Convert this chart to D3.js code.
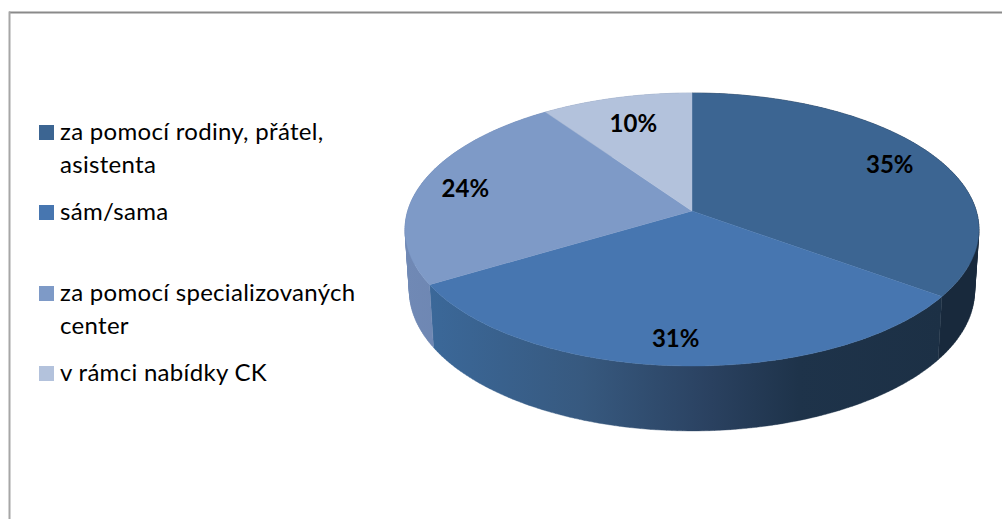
<!DOCTYPE html>
<html>
<head>
<meta charset="utf-8">
<script src="https://cdn.jsdelivr.net/npm/d3@7"></script>
<style>
html,body{margin:0;padding:0;background:#fff;overflow:hidden}
svg{display:block}
text{font-family:Lato,Carlito,sans-serif;fill:#000}
</style>
</head>
<body>
<svg id="c" width="1002" height="519"></svg>
<script>
const categories = ["za pomocí rodiny, přátel,|asistenta","sám/sama","za pomocí specializovaných|center","v rámci nabídky CK"];
const values = [35, 31.45, 23.85, 9.7];
const topColors = ["#3c6592","#4776b0","#7e9ac7","#b3c2dc"];
const wallStops = [
  [[0,"#18293c"],[1,"#18293c"]],
  [[0,"#3b6899"],[0.3,"#37597f"],[0.55,"#2a4160"],[0.72,"#1e334a"],[1,"#1c3045"]],
  [[0,"#7089b5"],[1,"#6a80ab"]],
  [[0,"#8a9ab8"],[1,"#8a9ab8"]]
];
const labelRadius = [0.82,0.84,0.835,0.755];
const labelTurn = [0,0.015,0,0];
const legendRows = [140,220,301,381];

const svg = d3.select("#c");
const defs = svg.append("defs");

// frame
svg.append("line").attr("x1",9).attr("x2",1002).attr("y1",12.5).attr("y2",12.5).attr("stroke","#8a8a8a").attr("stroke-width",2);
svg.append("line").attr("x1",9.5).attr("x2",9.5).attr("y1",11.5).attr("y2",519).attr("stroke","#a6a6a6").attr("stroke-width",2);

// perspective projection of the pie disc
const cx = 692, k = -0.1355;
const project = (level) => (a, r=1) => {
  const u = Math.sin(a)*r, v = -Math.cos(a)*r, d = 1 + k*v;
  return [cx + level.rx*u/d, level.cy + level.ry*v/d];
};
const topP = project({rx:284.3, cy:211, ry:134});
const lowP = project({rx:280, cy:272, ry:137.4});

const arcs = d3.pie().sort(null).value(d=>d)(values);
const samples = (a) => d3.range(0,121).map(i => a.startAngle + (a.endAngle-a.startAngle)*i/120);
const line = d3.line();

// side walls: swept quads, all wound the same way so the tangent silhouette fills
arcs.forEach((a,i)=>{
  const ts = samples(a);
  const up = ts.map(t=>topP(t)), lo = ts.map(t=>lowP(t));
  const xs = up.concat(lo).map(p=>p[0]);
  const g = defs.append("linearGradient").attr("id","w"+i).attr("gradientUnits","userSpaceOnUse")
    .attr("x1",d3.min(xs)).attr("x2",d3.max(xs)).attr("y1",0).attr("y2",0);
  wallStops[i].forEach(s=>g.append("stop").attr("offset",s[0]).attr("stop-color",s[1]));
  const d = d3.range(ts.length-1).map(j=>{
    const q = [up[j],up[j+1],lo[j+1],lo[j]];
    return line(d3.polygonArea(q) < 0 ? q.reverse() : q)+"Z";
  }).join("");
  svg.append("path").attr("d",d).attr("fill",`url(#w${i})`).attr("stroke",`url(#w${i})`).attr("stroke-width",0.4);
});

// top faces
arcs.forEach((a,i)=>{
  const pts = [[cx,211]].concat(samples(a).map(t=>topP(t)));
  svg.append("path").attr("d",line(pts)+"Z").attr("fill",topColors[i]).attr("stroke",topColors[i]).attr("stroke-width",0.4);
});

// value labels
arcs.forEach((a,i)=>{
  const p = topP((a.startAngle+a.endAngle)/2 + labelTurn[i], labelRadius[i]);
  svg.append("text").attr("x",p[0]).attr("y",p[1]+9).attr("text-anchor","middle")
    .attr("font-size",24).attr("font-weight",700).text(d3.format(".0f")(values[i])+"%");
});

// legend
categories.forEach((c,i)=>{
  svg.append("rect").attr("x",39).attr("y",legendRows[i]-15).attr("width",15).attr("height",15).attr("fill",topColors[i]);
  c.split("|").forEach((t,j)=>{
    svg.append("text").attr("x",60).attr("y",legendRows[i]+j*33).attr("font-size",24).attr("letter-spacing",0.3).text(t);
  });
});
</script>
</body>
</html>
